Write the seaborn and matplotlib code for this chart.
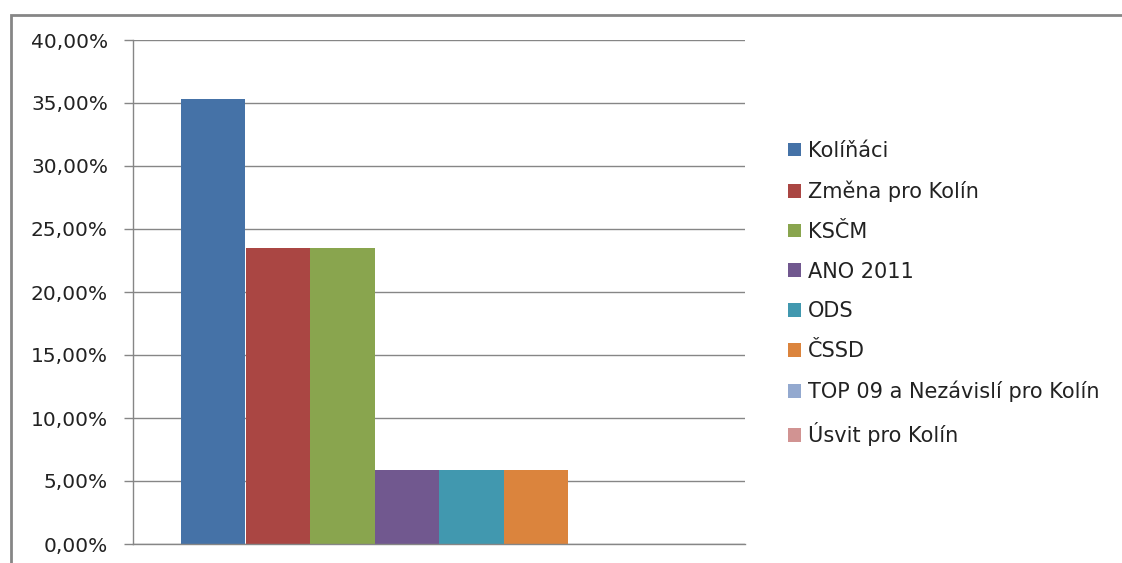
import pandas as pd
import seaborn as sns
import matplotlib.pyplot as plt
from matplotlib.patches import Rectangle
from matplotlib.ticker import FuncFormatter, MultipleLocator

# party results (share of seats)
parties = ["Kolíňáci", "Změna pro Kolín", "KSČM", "ANO 2011", "ODS", "ČSSD",
           "TOP 09 a Nezávislí pro Kolín", "Úsvit pro Kolín"]
shares = [35.29, 23.53, 23.53, 5.88, 5.88, 5.88, 0.0, 0.0]
colors = ["#4572A7", "#AA4643", "#89A54E", "#71588F", "#4198AF", "#DB843D",
          "#93A9CF", "#D19392"]

df = pd.DataFrame({"grp": ["Kolín"] * len(parties), "party": parties, "share": shares})

sns.set_style("white")
plt.rcParams['font.family'] = ['DejaVu Sans']
grey = "#868686"

fig = plt.figure(figsize=(11.22, 5.63), dpi=100)
ax = fig.add_axes([133 / 1122, 19 / 563, (745 - 133) / 1122, (544 - 40) / 563])

sns.barplot(data=df, x="grp", y="share", hue="party", hue_order=parties,
            palette=colors, width=516 / 612, ax=ax, legend=True, saturation=1,
            linewidth=0)

ax.set_xlim(-0.5, 0.5)
ax.set_ylim(0, 40)
ax.yaxis.set_major_locator(MultipleLocator(5))
ax.yaxis.set_major_formatter(FuncFormatter(lambda v, p: f"{v:.2f}%".replace(".", ",")))
ax.set_xticks([])
ax.set_xlabel("")
ax.set_ylabel("")
ax.grid(axis="y", color=grey, linewidth=1)
ax.set_axisbelow(True)
for s in ["top", "right"]:
    ax.spines[s].set_visible(False)
for s in ["left", "bottom"]:
    ax.spines[s].set_color(grey)
    ax.spines[s].set_linewidth(1)
ax.tick_params(axis="y", left=True, length=6.5, width=1, color=grey,
               pad=11.5, labelsize=14.5, labelcolor="#222222")

handles, labels = ax.get_legend_handles_labels()
ax.get_legend().remove()
fig.legend(handles, labels, loc="upper left", bbox_to_anchor=(769 / 1122, 1 - 122 / 563),
           frameon=False, fontsize=15, handlelength=0.63, handleheight=0.63,
           handletextpad=0.32, labelspacing=0.95, labelcolor="#222222")

# outer chart border
fig.patches.append(Rectangle((11 / 1122, -0.2), 1.2, 1.2 - 15 / 563,
                             transform=fig.transFigure, fill=False,
                             edgecolor=grey, linewidth=2, clip_on=False))

fig.savefig("out.png", dpi=100)
